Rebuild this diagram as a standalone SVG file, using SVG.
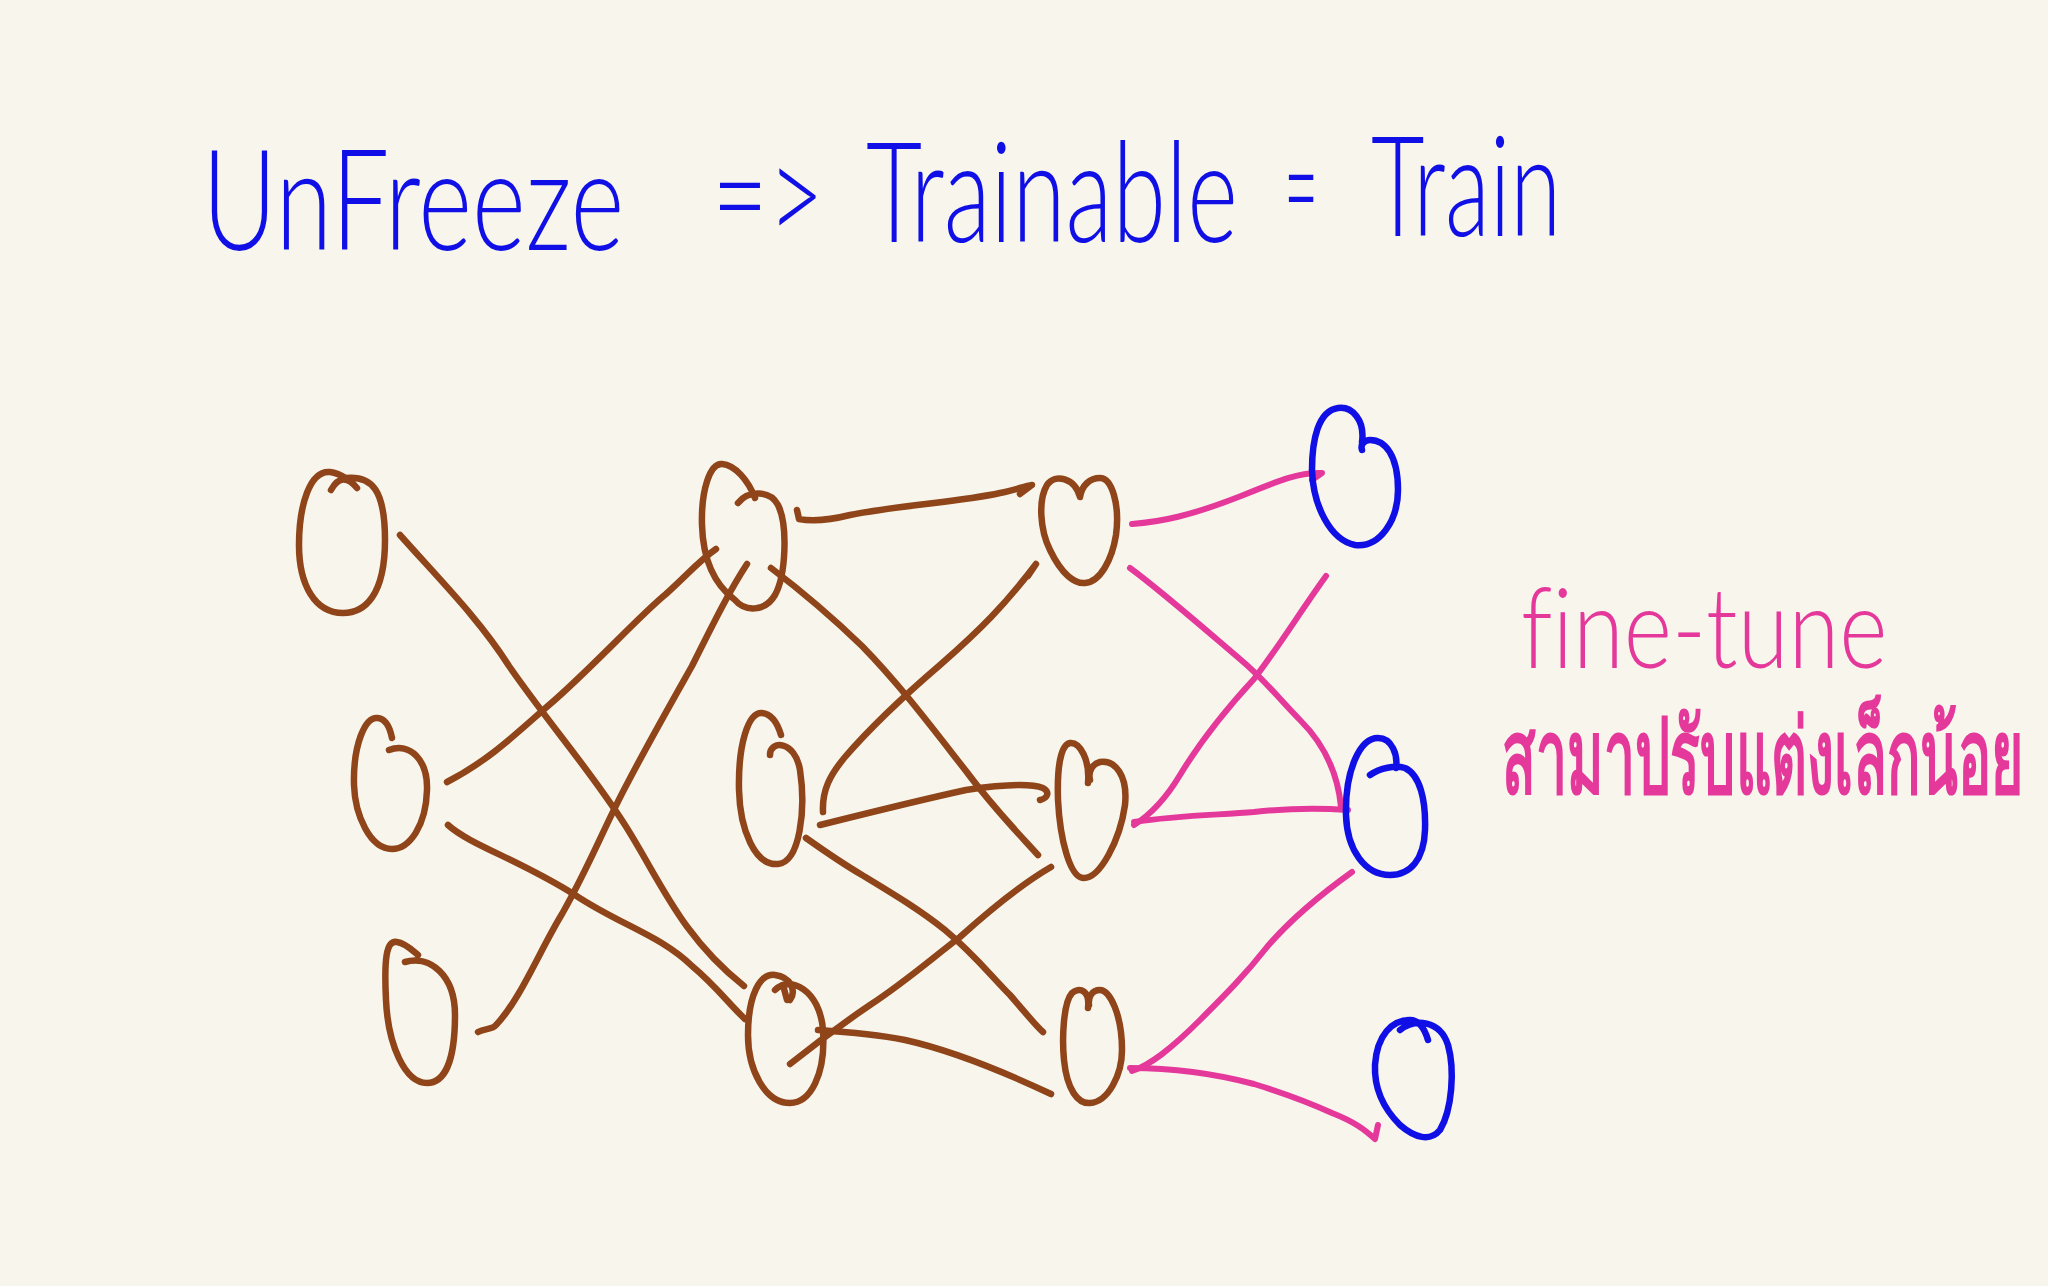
<svg xmlns="http://www.w3.org/2000/svg" width="2048" height="1286" viewBox="0 0 2048 1286">
<style>
  .bg { fill: #f8f5ec; }
  .brown { fill: none; stroke: #8f4519; stroke-width: 6.5; stroke-linecap: round; stroke-linejoin: round; }
  .blue { fill: none; stroke: #1010e6; stroke-width: 6.5; stroke-linecap: round; stroke-linejoin: round; }
  .pink { fill: none; stroke: #e4399b; stroke-width: 6; stroke-linecap: round; stroke-linejoin: round; }
  .title { font-family: Lato, "Liberation Sans", sans-serif; font-weight: 300; font-size: 140px; fill: #1010e6; font-variant-ligatures: none; }
  .note { font-family: Lato, "Liberation Sans", sans-serif; font-weight: 300; font-size: 112px; fill: #e4399b; font-variant-ligatures: none; }
  .thai { font-family: "Noto Sans", "Liberation Sans", sans-serif; font-weight: bold; font-size: 104px; fill: #e4399b; }
</style>
<rect class="bg" x="0" y="0" width="2048" height="1286"/>

<g id="title">
  <text class="title" transform="translate(202,250) scale(0.75,1)" x="0" y="0" textLength="563" lengthAdjust="spacingAndGlyphs">UnFreeze</text>
  <text class="title" transform="translate(712,244) scale(0.7,1)" x="0" y="0" textLength="160" lengthAdjust="spacingAndGlyphs">=&gt;</text>
  <text class="title" transform="translate(866,242) scale(0.65,1)" x="0" y="0" textLength="572" lengthAdjust="spacingAndGlyphs">Trainable</text>
  <text class="title" transform="translate(1284,236) scale(0.45,1)" x="0" y="0" textLength="76" lengthAdjust="spacingAndGlyphs">=</text>
  <text class="title" transform="translate(1371,236) scale(0.6,1)" x="0" y="0" textLength="317" lengthAdjust="spacingAndGlyphs">Train</text>
</g>

<g id="note">
  <text class="note" transform="translate(1521,668) scale(0.85,1)" x="0" y="0" textLength="431" lengthAdjust="spacingAndGlyphs">fine-tune</text>
  <text class="thai" transform="translate(1502,793) scale(0.42,1)" x="0" y="0" textLength="1243" lengthAdjust="spacingAndGlyphs">สามาปรับแต่งเล็กน้อย</text>
</g>

<g id="connectors">
  <g id="brown-links">
    <path class="brown" d="M 400 535 C 440 580, 480 620, 509 666 C 550 725, 590 770, 625 825 C 660 880, 680 935, 744 986"/>
    <path class="brown" d="M 447 782 C 490 760, 520 730, 549 705 C 590 670, 640 615, 666 594 C 690 572, 700 560, 716 549"/>
    <path class="brown" d="M 448 825 C 470 845, 520 860, 575 895 C 620 925, 660 935, 692 966 C 715 985, 730 1005, 745 1019"/>
    <path class="brown" d="M 478 1032 C 485 1028, 492 1030, 496 1025 C 520 1000, 540 950, 562 914 C 590 865, 605 825, 627 784 C 650 740, 670 705, 692 666 C 715 620, 730 590, 747 564"/>
    <path class="brown" d="M 797 510 L 799 519 C 815 522, 830 520, 850 515 C 900 505, 960 502, 1000 493 C 1015 490, 1025 486, 1032 485 L 1020 494"/>
    <path class="brown" d="M 771 568 C 800 590, 830 615, 862 646 C 900 685, 930 725, 966 771 C 995 810, 1020 835, 1038 855"/>
    <path class="brown" d="M 823 812 C 822 790, 830 775, 845 757 C 870 728, 905 695, 940 665 C 980 630, 1005 605, 1036 564 L 1028 576"/>
    <path class="brown" d="M 820 825 C 860 815, 920 800, 966 790 C 1000 785, 1030 783, 1043 788 C 1050 792, 1048 798, 1040 800"/>
    <path class="brown" d="M 806 838 C 830 855, 845 865, 862 875 C 895 895, 920 910, 945 930 C 975 955, 990 975, 1010 995 C 1025 1012, 1035 1025, 1043 1032"/>
    <path class="brown" d="M 790 1064 C 820 1040, 845 1022, 870 1005 C 905 982, 930 960, 960 937 C 990 910, 1020 885, 1051 867"/>
    <path class="brown" d="M 818 1030 C 850 1032, 880 1035, 905 1040 C 950 1050, 1000 1070, 1051 1094"/>
  </g>
  <g id="pink-links">
    <path class="pink" d="M 1132 524 C 1160 522, 1190 516, 1241 496 C 1280 480, 1300 472, 1322 473 L 1312 480"/>
    <path class="pink" d="M 1130 568 C 1160 590, 1200 625, 1241 660 C 1265 680, 1280 700, 1300 720 C 1325 745, 1338 775, 1341 807"/>
    <path class="pink" d="M 1134 825 C 1150 815, 1165 800, 1180 775 C 1200 742, 1230 705, 1254 679 C 1280 645, 1300 612, 1326 576"/>
    <path class="pink" d="M 1134 822 C 1180 815, 1220 815, 1254 812 C 1290 808, 1320 808, 1348 810"/>
    <path class="pink" d="M 1132 1071 C 1150 1065, 1170 1050, 1200 1020 C 1225 995, 1245 975, 1267 947 C 1290 920, 1320 895, 1352 872"/>
    <path class="pink" d="M 1130 1068 C 1180 1068, 1220 1075, 1254 1084 C 1290 1095, 1310 1103, 1332 1113 C 1355 1122, 1365 1130, 1375 1139 L 1378 1125"/>
  </g>
</g>

<g id="node-a1">
  <path class="brown" d="M 345 478 C 372 475, 385 490, 385 540 C 385 595, 365 613, 343 613 C 315 613, 299 585, 299 545 C 299 505, 310 470, 330 472 C 340 473, 345 478, 352 482"/>
  <path class="brown" d="M 331 490 Q 342 470 357 488"/>
</g>
<g id="node-a2">
  <path class="brown" d="M 389 750 C 410 742, 428 760, 427 790 C 426 825, 410 849, 392 849 C 370 849, 355 815, 354 785 C 353 745, 365 716, 378 718 C 386 719, 390 728, 392 738"/>
</g>
<g id="node-a3">
  <path class="brown" d="M 405 962 C 430 955, 455 975, 455 1015 C 455 1060, 445 1083, 427 1083 C 405 1083, 388 1045, 386 1000 C 384 960, 386 940, 397 942 C 405 943, 412 950, 418 955"/>
</g>
<g id="node-b1">
  <path class="brown" d="M 738 503 C 748 490, 770 490, 778 505 C 788 525, 786 575, 775 595 C 765 612, 745 612, 735 600 C 715 585, 703 560, 702 525 C 701 490, 710 463, 722 464 C 735 465, 748 480, 755 498"/>
</g>
<g id="node-b2">
  <path class="brown" d="M 770 755 C 770 740, 795 740, 800 770 C 806 810, 800 862, 778 864 C 755 866, 740 830, 739 790 C 738 745, 748 712, 762 713 C 772 714, 778 725, 781 735"/>
</g>
<g id="node-b3">
  <path class="brown" d="M 775 990 C 790 975, 820 990, 823 1030 C 826 1075, 810 1103, 790 1103 C 765 1103, 748 1070, 748 1035 C 748 995, 760 973, 775 975 C 790 977, 797 990, 790 1000"/>
  <path class="brown" d="M 783 985 L 787 1000"/>
</g>
<g id="node-c1">
  <path class="brown" d="M 1080 497 C 1075 478, 1055 473, 1047 485 C 1038 500, 1040 530, 1050 550 C 1062 575, 1075 584, 1085 583 C 1100 582, 1112 560, 1116 535 C 1120 505, 1112 478, 1100 478 C 1090 478, 1082 485, 1080 497"/>
</g>
<g id="node-c2">
  <path class="brown" d="M 1088 783 C 1090 760, 1080 742, 1070 743 C 1060 745, 1057 770, 1058 800 C 1060 840, 1070 877, 1083 878 C 1100 879, 1120 840, 1125 805 C 1128 775, 1115 760, 1100 762 C 1092 764, 1088 772, 1090 780"/>
</g>
<g id="node-c3">
  <path class="brown" d="M 1088 1008 C 1090 990, 1080 987, 1072 993 C 1063 1003, 1062 1040, 1064 1060 C 1067 1090, 1078 1104, 1090 1103 C 1108 1102, 1122 1075, 1122 1050 C 1122 1015, 1110 990, 1100 990 C 1092 990, 1088 997, 1089 1005"/>
</g>
<g id="node-d1">
  <path class="blue" d="M 1362 442 C 1365 420, 1352 406, 1338 408 C 1318 411, 1312 440, 1312 470 C 1313 505, 1330 540, 1355 545 C 1380 548, 1398 520, 1398 490 C 1398 455, 1385 440, 1370 440 C 1365 440, 1360 444, 1362 450"/>
</g>
<g id="node-d2">
  <path class="blue" d="M 1370 775 C 1380 768, 1395 765, 1405 768 C 1420 775, 1426 800, 1425 830 C 1424 860, 1410 875, 1390 875 C 1365 875, 1347 850, 1346 815 C 1345 770, 1360 738, 1378 738 C 1392 738, 1398 755, 1396 768"/>
</g>
<g id="node-d3">
  <path class="blue" d="M 1400 1030 C 1415 1018, 1440 1020, 1448 1045 C 1455 1070, 1452 1110, 1440 1130 C 1430 1142, 1415 1138, 1400 1125 C 1385 1110, 1374 1090, 1375 1065 C 1377 1035, 1392 1020, 1410 1020 C 1420 1020, 1425 1030, 1428 1040"/>
</g>
</svg>
